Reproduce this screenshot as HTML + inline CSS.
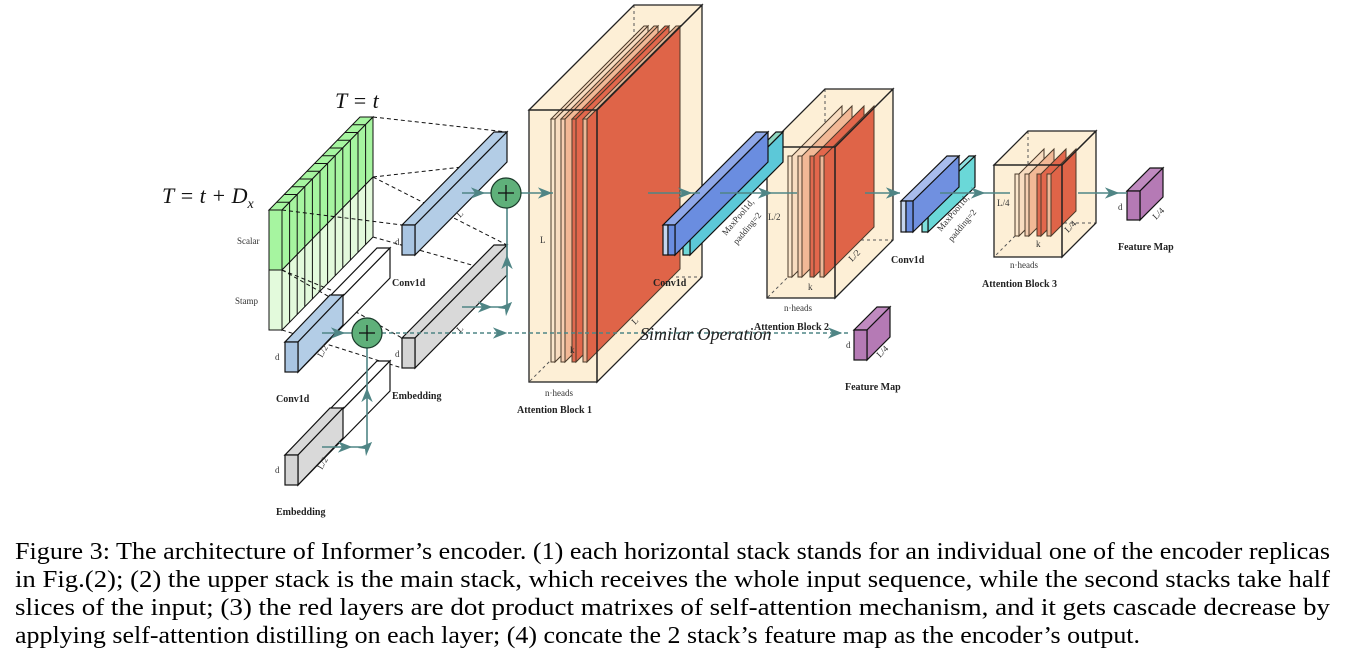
<!DOCTYPE html>
<html><head><meta charset="utf-8"><style>
html,body{margin:0;padding:0;background:#fff;}
svg{display:block;}
.s{font-family:"Liberation Serif",serif;}
.b{font-family:"Liberation Serif",serif;font-weight:bold;font-size:10px;fill:#222;}
.sm{font-family:"Liberation Serif",serif;font-size:9px;fill:#333;}
</style></head><body>
<svg width="1350" height="653" viewBox="0 0 1350 653" xmlns="http://www.w3.org/2000/svg">
<defs>
<marker id="ah" viewBox="0 0 10 10" refX="5" refY="5" markerWidth="9" markerHeight="9" orient="auto"><path d="M0,1 L10,5 L0,9 L3,5 z" fill="#4f8585"/></marker>
</defs>
<!-- green grid -->
<g stroke="#111" stroke-width="1">
<polygon points="269,210 282,210 373,117 360,117" fill="#a6f5a0"/>
<polygon points="282,210 373,117 373,177 282,270" fill="#a6f5a0"/>
<polygon points="282,270 373,177 373,237 282,330" fill="#e3fadc"/>
<g fill="none">
<path d="M289.6,202.25V322.25 M297.2,194.5V314.5 M304.8,186.75V306.75 M312.4,179V299 M320,171.25V291.25 M327.6,163.5V283.5 M335.2,155.75V275.75 M342.8,148V268 M350.4,140.25V260.25 M358,132.5V252.5 M365.6,124.75V244.75"/>
<path d="M276.6,202.25H289.6 M284.2,194.5H297.2 M291.8,186.75H304.8 M299.4,179H312.4 M307,171.25H320 M314.6,163.5H327.6 M322.2,155.75H335.2 M329.8,148H342.8 M337.4,140.25H350.4 M345,132.5H358 M352.6,124.75H365.6"/>
</g>
<rect x="269" y="210" width="13" height="60" fill="#a6f5a0"/>
<rect x="269" y="270" width="13" height="60" fill="#e3fadc"/>
</g>
<!-- dashed projection lines -->
<g stroke="#111" stroke-width="1" stroke-dasharray="4,3" fill="none">
<line x1="373" y1="117" x2="507" y2="132"/>
<line x1="373" y1="177" x2="507" y2="162"/>
<line x1="282" y1="210" x2="402" y2="225"/>
<line x1="373" y1="177" x2="507" y2="245"/>
<line x1="373" y1="237" x2="507" y2="275"/>
<line x1="282" y1="270" x2="402" y2="338"/>
<line x1="282" y1="330" x2="402" y2="368"/>
<line x1="282" y1="270" x2="343" y2="295"/>
</g>
<g stroke="#111" stroke-width="1.2">
<polygon points="402,225 415,225 507,132 494,132" fill="#b3cde6"/>
<polygon points="415,225 507,132 507,162 415,255" fill="#b3cde6"/>
<rect x="402" y="225" width="13" height="30" fill="#a9c5e2"/>
<polygon points="402,338 415,338 507,245 494,245" fill="#d9d9d9"/>
<polygon points="415,338 507,245 507,275 415,368" fill="#d9d9d9"/>
<rect x="402" y="338" width="13" height="30" fill="#d4d4d4"/>
<polygon points="285,342 298,342 390,248 377,248" fill="#fff"/>
<polygon points="298,342 390,248 390,278 298,372" fill="#fff"/>
<polygon points="285,342 298,342 343,295 330,295" fill="#b3cde6"/>
<polygon points="298,342 343,295 343,325 298,372" fill="#b3cde6"/>
<rect x="285" y="342" width="13" height="30" fill="#a9c5e2"/>
<polygon points="285,455 298,455 390,361 377,361" fill="#fff"/>
<polygon points="298,455 390,361 390,391 298,485" fill="#fff"/>
<polygon points="285,455 298,455 343,408 330,408" fill="#d9d9d9"/>
<polygon points="298,455 343,408 343,438 298,485" fill="#d9d9d9"/>
<rect x="285" y="455" width="13" height="30" fill="#d4d4d4"/>
</g>

<!-- Attention block 1 -->
<polygon points="529,110 634,5 702,5 702,277 597,382 529,382" fill="#fdefd6"/>
<g stroke="#555" stroke-dasharray="3,3" fill="none"><line x1="634" y1="5" x2="634" y2="277"/><line x1="634" y1="277" x2="702" y2="277"/><line x1="634" y1="277" x2="529" y2="382"/></g>
<g stroke="#4a3a2a" stroke-width="1">
<polygon points="555,119 648,26 648,269 555,362" fill="#f8dcc0"/><polygon points="551,119 555,119 648,26 644,26" fill="#f8dcc0"/><rect x="551" y="119" width="4" height="243" fill="#fbe6cc"/>
<polygon points="565,119 658,26 658,269 565,362" fill="#f2b896"/><polygon points="561,119 565,119 658,26 654,26" fill="#f2b896"/><rect x="561" y="119" width="4" height="243" fill="#f6cfb2"/>
<polygon points="576,119 669,26 669,269 576,362" fill="#e2674c"/><polygon points="572,119 576,119 669,26 665,26" fill="#e2674c"/><rect x="572" y="119" width="4" height="243" fill="#e06a50"/>
<polygon points="587,119 680,26 680,269 587,362" fill="#df6448"/><polygon points="583,119 587,119 680,26 676,26" fill="#e8b898"/><rect x="583" y="119" width="4" height="243" fill="#eeb898"/>
</g>
<g stroke="#222" stroke-width="1.3" fill="none">
<polygon points="529,110 634,5 702,5 597,110"/>
<polygon points="597,110 702,5 702,277 597,382"/>
<rect x="529" y="110" width="68" height="272"/>
</g>

<!-- Attention block 2 -->
<polygon points="767,147 825,89 893,89 893,240 835,298 767,298" fill="#fdefd6"/>
<g stroke="#555" stroke-dasharray="3,3" fill="none"><line x1="825" y1="89" x2="825" y2="240"/><line x1="825" y1="240" x2="893" y2="240"/><line x1="825" y1="240" x2="767" y2="298"/></g>
<g stroke="#4a3a2a" stroke-width="1">
<polygon points="792,156 842,106 842,227 792,277" fill="#f8dcc0"/><rect x="788" y="156" width="4" height="121" fill="#fbe6cc"/>
<polygon points="802,156 852,106 852,227 802,277" fill="#f2b896"/><rect x="798" y="156" width="4" height="121" fill="#f6cfb2"/>
<polygon points="814,156 864,106 864,227 814,277" fill="#e2674c"/><rect x="810" y="156" width="4" height="121" fill="#e06a50"/>
<polygon points="824,156 874,106 874,227 824,277" fill="#df6448"/><rect x="820" y="156" width="4" height="121" fill="#eeb898"/>
</g>
<g stroke="#222" stroke-width="1.3" fill="none">
<polygon points="767,147 825,89 893,89 835,147"/>
<polygon points="835,147 893,89 893,240 835,298"/>
<rect x="767" y="147" width="68" height="151"/>
</g>

<!-- Attention block 3 -->
<polygon points="994,165 1028,131 1096,131 1096,223 1062,257 994,257" fill="#fdefd6"/>
<g stroke="#555" stroke-dasharray="3,3" fill="none"><line x1="1028" y1="131" x2="1028" y2="223"/><line x1="1028" y1="223" x2="1096" y2="223"/><line x1="1028" y1="223" x2="994" y2="257"/></g>
<g stroke="#4a3a2a" stroke-width="1">
<polygon points="1019,174 1044,149 1044,211 1019,236" fill="#f8dcc0"/><rect x="1015" y="174" width="4" height="62" fill="#fbe6cc"/>
<polygon points="1029,174 1054,149 1054,211 1029,236" fill="#f2b896"/><rect x="1025" y="174" width="4" height="62" fill="#f6cfb2"/>
<polygon points="1041,174 1066,149 1066,211 1041,236" fill="#e2674c"/><rect x="1037" y="174" width="4" height="62" fill="#e06a50"/>
<polygon points="1051,174 1076,149 1076,211 1051,236" fill="#df6448"/><rect x="1047" y="174" width="4" height="62" fill="#eeb898"/>
</g>
<g stroke="#222" stroke-width="1.3" fill="none">
<polygon points="994,165 1028,131 1096,131 1062,165"/>
<polygon points="1062,165 1096,131 1096,223 1062,257"/>
<rect x="994" y="165" width="68" height="92"/>
</g>

<!-- conv blocks middle -->
<g stroke="#111" stroke-width="1.2">
<polygon points="683,225 690,225 783,132 776,132" fill="#8fd6c0"/>
<polygon points="690,225 783,132 783,162 690,255" fill="#5cc8d8"/>
<rect x="683" y="225" width="7" height="30" fill="#6fd8d8"/>
<polygon points="663,225 675,225 768,132 756,132" fill="#8fa8e8"/>
<polygon points="675,225 768,132 768,162 675,255" fill="#6a8de0"/>
<rect x="663" y="225" width="5" height="30" fill="#c4d4ee"/><rect x="668" y="225" width="7" height="30" fill="#6a8de0"/>
<polygon points="922,201 928,201 975,156 969,156" fill="#8fe0e0"/>
<polygon points="928,201 975,156 975,187 928,232" fill="#6ad8d8"/>
<rect x="922" y="201" width="6" height="31" fill="#7ee0dc"/>
<polygon points="901,201 913,201 959,156 947,156" fill="#a8bcec"/>
<polygon points="913,201 959,156 959,187 913,232" fill="#7090e0"/>
<rect x="901" y="201" width="5" height="31" fill="#c4d4ee"/><rect x="906" y="201" width="7" height="31" fill="#6a8de0"/>
<polygon points="854,330 867,330 890,307 877,307" fill="#c08ac0"/>
<polygon points="867,330 890,307 890,337 867,360" fill="#b57ab5"/>
<rect x="854" y="330" width="13" height="30" fill="#b57ab5"/>
<polygon points="1127,191 1140,191 1163,168 1150,168" fill="#c08ac0"/>
<polygon points="1140,191 1163,168 1163,197 1140,220" fill="#b57ab5"/>
<rect x="1127" y="191" width="13" height="29" fill="#b57ab5"/>
</g>

<!-- teal arrows -->
<g stroke="#4f8585" stroke-width="1.6" fill="none">
<path d="M462,193 L478,193 L491,193" marker-mid="url(#ah)"/>
<path d="M521,193 L545,193 L553,193" marker-mid="url(#ah)"/>
<path d="M462,307 L485,307 L507,307 L507,262 L507,208" marker-mid="url(#ah)"/>
<path d="M322,333 L338,333 L352,333" marker-mid="url(#ah)"/>
<path d="M322,447 L345,447 L367,447 L367,395 L367,348" marker-mid="url(#ah)"/>
<path d="M648,193 L685,193 L700,193" marker-mid="url(#ah)"/>
<path d="M720,193 L765,193 L797,193" marker-mid="url(#ah)"/>
<path d="M865,193 L893,193 L900,193" marker-mid="url(#ah)"/>
<path d="M940,193 L978,193 L1010,193" marker-mid="url(#ah)"/>
<path d="M1078,193 L1112,193 L1127,193" marker-mid="url(#ah)"/>
<path d="M382,333 L500,333 L835,333 L848,333" stroke-dasharray="4,3" marker-mid="url(#ah)"/>
</g>
<g stroke="#1a3a2a" stroke-width="1.2">
<circle cx="506" cy="193" r="15" fill="#5fb07a"/>
<circle cx="367" cy="333" r="15" fill="#5fb07a"/>
</g>
<g stroke="#111" stroke-width="1.3">
<line x1="498" y1="193" x2="514" y2="193"/><line x1="506" y1="185" x2="506" y2="201"/>
<line x1="359" y1="333" x2="375" y2="333"/><line x1="367" y1="325" x2="367" y2="341"/>
</g>

<!-- text -->
<g class="s" fill="#111">
<text x="335" y="108" font-size="22" font-style="italic">T = t</text>
<text x="162" y="203" font-size="22" font-style="italic">T = t + D<tspan font-size="14" dy="5">x</tspan></text>
<text x="640" y="340" font-size="18" font-style="italic" fill="#222">Similar Operation</text>
</g>
<g class="sm">
<text x="237" y="244">Scalar</text>
<text x="235" y="304">Stamp</text>
<text x="395" y="245">d</text>
<text x="395" y="357">d</text>
<text x="275" y="360">d</text>
<text x="275" y="473">d</text>
<text x="540" y="243">L</text>
<text x="570" y="353">k</text>
<text x="545" y="396">n·heads</text>
<text x="808" y="290">k</text>
<text x="784" y="311">n·heads</text>
<text x="768" y="220">L/2</text>
<text x="1036" y="247">k</text>
<text x="1010" y="268">n·heads</text>
<text x="997" y="206">L/4</text>
<text x="1118" y="210">d</text>
<text x="846" y="348">d</text>
<text transform="translate(460,218) rotate(-45)">L</text>
<text transform="translate(460,333) rotate(-45)">L</text>
<text transform="translate(322,358) rotate(-60)">L/2</text>
<text transform="translate(322,470) rotate(-60)">L/2</text>
<text transform="translate(635,325) rotate(-45)">L</text>
<text transform="translate(852,262) rotate(-45)">L/2</text>
<text transform="translate(1068,233) rotate(-45)">L/4</text>
<text transform="translate(880,358) rotate(-45)">L/4</text>
<text transform="translate(1156,220) rotate(-45)">L/4</text>
<text transform="translate(726,236) rotate(-50)">MaxPool1d,</text>
<text transform="translate(737,245) rotate(-50)">padding=2</text>
<text transform="translate(941,232) rotate(-50)">MaxPool1d,</text>
<text transform="translate(952,242) rotate(-50)">padding=2</text>
</g>
<g class="b">
<text x="392" y="286">Conv1d</text>
<text x="392" y="399">Embedding</text>
<text x="276" y="402">Conv1d</text>
<text x="276" y="515">Embedding</text>
<text x="517" y="413">Attention Block 1</text>
<text x="653" y="286">Conv1d</text>
<text x="754" y="330">Attention Block 2</text>
<text x="891" y="263">Conv1d</text>
<text x="982" y="287">Attention Block 3</text>
<text x="1118" y="250">Feature Map</text>
<text x="845" y="390">Feature Map</text>
</g>
<g class="s" font-size="24" fill="#000">
<text x="15" y="559" textLength="1315" lengthAdjust="spacingAndGlyphs">Figure 3: The architecture of Informer’s encoder. (1) each horizontal stack stands for an individual one of the encoder replicas</text>
<text x="15" y="587" textLength="1315" lengthAdjust="spacingAndGlyphs">in Fig.(2); (2) the upper stack is the main stack, which receives the whole input sequence, while the second stacks take half</text>
<text x="15" y="615" textLength="1315" lengthAdjust="spacingAndGlyphs">slices of the input; (3) the red layers are dot product matrixes of self-attention mechanism, and it gets cascade decrease by</text>
<text x="15" y="643" textLength="1125" lengthAdjust="spacingAndGlyphs">applying self-attention distilling on each layer; (4) concate the 2 stack’s feature map as the encoder’s output.</text>
</g>
</svg>
</body></html>
